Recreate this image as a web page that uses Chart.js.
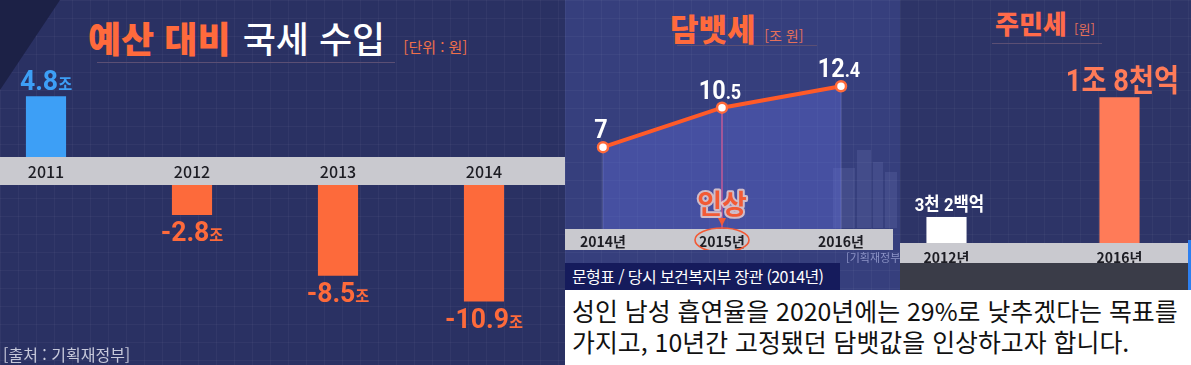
<!DOCTYPE html>
<html lang="ko">
<head>
<meta charset="utf-8">
<title>국세 수입 / 담뱃세 / 주민세</title>
<script src="https://cdn.jsdelivr.net/npm/chart.js@4.4.1/dist/chart.umd.min.js"></script>
<style>
  body { margin: 0; width: 1191px; height: 365px; overflow: hidden; position: relative;
         background: #1e2348; font-family: "Noto Sans CJK KR", "Noto Sans", sans-serif; }
  .panel { position: absolute; top: 0; height: 365px; overflow: hidden;
           background-image: linear-gradient(rgba(255,255,255,0.035) 1px, transparent 1px),
                             linear-gradient(90deg, rgba(255,255,255,0.035) 1px, transparent 1px);
           background-size: 18px 18px; }
  #p1 { left: 0; width: 565px; background-color: #2a3163; }
  #p2 { left: 565px; width: 335px; background-color: #363f7d; }
  #p3 { left: 900px; width: 291px; background-color: #2d3467; }
  .band { position: absolute; left: 0; background: #c9c9cf; }
  .title { position: absolute; white-space: nowrap; font-weight: 700; line-height: 1; }
  .rule { position: absolute; height: 1px; background: #5b4f74; }
  canvas { position: absolute; }
  #corner { position: absolute; left: 0; top: 0; width: 60px; height: 90px; background: #1c2146;
            clip-path: polygon(0 0, 100% 0, 0 100%); }
  .deco { position: absolute; background: rgba(190,200,255,0.10); }
  #tag { position: absolute; left: 565px; top: 263px; width: 275px; height: 27px; background: #151b5c;
         color: #fff; font-size: 16px; letter-spacing: -0.6px; line-height: 27px; padding-left: 7px;
         box-sizing: border-box; white-space: nowrap; }
  #caption { position: absolute; left: 565px; top: 290px; width: 626px; height: 75px; background: #fff;
             color: #111; font-size: 24.9px; line-height: 31px; padding: 5px 0 0 7px; box-sizing: border-box; white-space: nowrap; }
</style>
</head>
<body>

<div class="panel" id="p1">
  <div id="corner"></div>
  <div class="band" style="top:157px;height:28px;width:565px"></div>
  <div class="title" style="left:88px;top:19px;font-size:36px">
    <span style="color:#ff6a3c;font-weight:900">예산 대비</span>
    <span style="color:#fff;font-weight:500;margin-left:2px">국세 수입</span>
    <span style="color:#f0704a;font-size:15px;font-weight:400;margin-left:8px">[단위 : 원]</span>
  </div>
  <div class="rule" style="left:97px;top:62px;width:298px"></div>
  <canvas id="budgetUp" width="584" height="125" style="left:-27px;top:60px"></canvas>
  <canvas id="budgetDown" width="584" height="180" style="left:-27px;top:185px"></canvas>
  <div class="title" style="left:3px;top:346px;font-size:16px;font-weight:400;color:#c6c8da">[출처 : 기획재정부]</div>
</div>

<div class="panel" id="p2">
  <div class="deco" style="left:268px;top:168px;width:22px;height:60px"></div>
  <div class="deco" style="left:292px;top:150px;width:14px;height:78px"></div>
  <div class="deco" style="left:308px;top:162px;width:10px;height:66px"></div>
  <div class="deco" style="left:320px;top:172px;width:12px;height:56px"></div>
  <div class="band" style="top:229px;height:21px;width:328px"></div>
  <div class="title" style="left:105px;top:12px;font-size:31px">
    <span style="color:#ff6a3c;font-weight:900">담뱃세</span>
    <span style="color:#e5705a;font-size:14px;font-weight:400">[조 원]</span>
  </div>
  <div class="rule" style="left:112px;top:45px;width:140px"></div>
  <canvas id="tobacco" width="335" height="250" style="left:0;top:0"></canvas>
  <div class="title" style="left:281px;top:252px;font-size:11px;font-weight:400;color:#8c93c6">[기획재정부]</div>
</div>

<div class="panel" id="p3">
  <div class="band" style="top:243px;height:20px;width:288px"></div>
  <div style="position:absolute;left:0;top:263px;width:291px;height:30px;background:#3a3c48"></div>
  <div style="position:absolute;left:288px;top:240px;width:3px;height:50px;background:#2c7ff0"></div>
  <div class="title" style="left:95px;top:10px;font-size:26px">
    <span style="color:#ff6a4a;font-weight:900">주민세</span>
    <span style="color:#e5705a;font-size:13px;font-weight:400">[원]</span>
  </div>
  <div class="rule" style="left:92px;top:43px;width:110px"></div>
  <canvas id="resident" width="346" height="263" style="left:-40px;top:0"></canvas>
</div>

<div id="tag">문형표 / 당시 보건복지부 장관 (2014년)</div>
<div id="caption">성인 남성 흡연율을 2020년에는 29%로 낮추겠다는 목표를<br>가지고, 10년간 고정됐던 담뱃값을 인상하고자 합니다.</div>

<script>
// 예산 대비 국세 수입 (조 원)
var budgetYears = ['2011', '2012', '2013', '2014'];
var budgetGap = [4.8, -2.8, -8.5, -10.9];

// 담뱃세 (조 원)
var tobaccoYears = ['2014년', '2015년', '2016년'];
var tobaccoTax = [7, 10.5, 12.4];
var tobaccoNote = '인상';
var tobaccoNoteYear = '2015년';

// 주민세 (억 원)
var residentYears = ['2012년', '2016년'];
var residentTax = [3200, 18000];

var ORANGE = '#fd6a3b';
var BLUE = '#3d9ff6';
var LABEL_FONT = 'Roboto, "Noto Sans CJK KR", sans-serif';

Chart.defaults.font.family = '"Noto Sans CJK KR", "Noto Sans", sans-serif';

// text made of pieces with different sizes, centred on cx
function drawParts(ctx, parts, cx, y, size, color, squeeze) {
  ctx.save();
  ctx.fillStyle = color;
  ctx.textBaseline = 'alphabetic';
  var fonts = parts.map(p => 'bold ' + Math.round(size * p[1]) + 'px ' + LABEL_FONT);
  var widths = parts.map((p, i) => { ctx.font = fonts[i]; return ctx.measureText(p[0]).width; });
  var total = widths.reduce((a, b) => a + b, 0);
  ctx.translate(cx, y);
  ctx.scale(squeeze || 1, 1);
  var x = -total / 2;
  parts.forEach((p, i) => { ctx.font = fonts[i]; ctx.fillText(p[0], x, 0); x += widths[i]; });
  ctx.restore();
}

var valueLabels = {
  id: 'valueLabels',
  afterDatasetsDraw: function(chart, args, opts) {
    if (!opts.format) return;
    var values = chart.data.datasets[0].data;
    chart.getDatasetMeta(0).data.forEach(function(el, i) {
      var v = values[i];
      if (v === null || v === undefined) return;
      var size = typeof opts.size === 'function' ? opts.size(v, i) : opts.size;
      var color = opts.color === 'bar' ? el.options.backgroundColor : opts.color;
      var y = v < 0 ? el.y + opts.gap + size * 0.72 : el.y - opts.gap;
      drawParts(chart.ctx, opts.format(v, i), el.x + (opts.dx || 0), y, size, color, opts.squeeze);
    });
  }
};

function bandAxis(height, pad, size, weight) {
  return {
    grid: { display: false, drawTicks: false },
    border: { display: false },
    ticks: { color: '#1d1d24', padding: pad, font: { size: size, weight: weight || 'bold' }, maxRotation: 0 },
    afterFit: function(scale) { scale.height = height; }
  };
}

function budgetChart(id, values, yMin, yMax, showAxis) {
  var axis = bandAxis(28, 5, 16, 500);
  axis.display = showAxis;
  return new Chart(document.getElementById(id), {
    type: 'bar',
    data: {
      labels: budgetYears,
      datasets: [{
        data: values,
        backgroundColor: budgetGap.map(v => v > 0 ? BLUE : ORANGE),
        categoryPercentage: 1,
        barPercentage: 0.275
      }]
    },
    options: {
      responsive: false,
      animation: false,
      layout: { padding: 0 },
      plugins: {
        legend: { display: false },
        tooltip: { enabled: false },
        valueLabels: {
          format: v => [[v.toFixed(1), 1], ['조', 0.58]],
          size: 28, gap: 6, color: 'bar', squeeze: 0.95
        }
      },
      scales: {
        x: axis,
        y: { display: false, min: yMin, max: yMax }
      }
    },
    plugins: [valueLabels]
  });
}

budgetChart('budgetUp', budgetGap.map(v => v > 0 ? v : null), 0, 7.67, true);
budgetChart('budgetDown', budgetGap.map(v => v < 0 ? v : null), -14.23, 0, false);

// drop lines under the points + the 인상 note
var tobaccoMarks = {
  id: 'tobaccoMarks',
  beforeDatasetsDraw: function(chart) {
    var ctx = chart.ctx, bottom = chart.chartArea.bottom;
    chart.getDatasetMeta(0).data.forEach(function(pt, i) {
      var hot = tobaccoYears[i] === tobaccoNoteYear;
      ctx.save();
      ctx.strokeStyle = hot ? '#d04a70' : 'rgba(200,205,255,0.28)';
      ctx.lineWidth = hot ? 2 : 1;
      ctx.beginPath();
      ctx.moveTo(pt.x, pt.y);
      ctx.lineTo(pt.x, bottom);
      ctx.stroke();
      ctx.restore();
    });
  },
  afterDraw: function(chart) {
    var ctx = chart.ctx;
    var x = chart.scales.x.getPixelForValue(tobaccoYears.indexOf(tobaccoNoteYear));
    var bottom = chart.chartArea.bottom;
    ctx.save();
    ctx.font = 'bold 27px "Noto Sans CJK KR", sans-serif';
    ctx.textAlign = 'center';
    ctx.textBaseline = 'alphabetic';
    ctx.lineJoin = 'round';
    ctx.lineWidth = 4;
    ctx.strokeStyle = 'rgba(255,225,215,0.75)';
    ctx.strokeText(tobaccoNote, x, bottom - 15);
    ctx.fillStyle = '#f25a36';
    ctx.fillText(tobaccoNote, x, bottom - 15);
    ctx.beginPath();
    ctx.moveTo(x - 4, bottom - 11);
    ctx.lineTo(x + 4, bottom - 11);
    ctx.lineTo(x, bottom - 3);
    ctx.closePath();
    ctx.fill();
    ctx.strokeStyle = '#f25a36';
    ctx.lineWidth = 1.6;
    ctx.beginPath();
    ctx.ellipse(x, bottom + 11, 27, 12, 0, 0, Math.PI * 2);
    ctx.stroke();
    ctx.restore();
  }
};

new Chart(document.getElementById('tobacco'), {
  type: 'line',
  data: {
    labels: tobaccoYears,
    datasets: [{
      data: tobaccoTax,
      borderColor: '#ff5a28',
      borderWidth: 4,
      fill: 'start',
      backgroundColor: 'rgba(95,108,215,0.40)',
      pointRadius: 5,
      pointBorderWidth: 2.5,
      pointBackgroundColor: '#ffffff',
      pointBorderColor: '#ff6a3a',
      tension: 0
    }]
  },
  options: {
    responsive: false,
    animation: false,
    layout: { padding: { left: 38, right: 59, top: 20, bottom: 0 } },
    plugins: {
      legend: { display: false },
      tooltip: { enabled: false },
      valueLabels: {
        format: function(v) {
          var s = String(v).split('.');
          return s.length > 1 ? [[s[0], 1], ['.' + s[1], 0.75]] : [[s[0], 1]];
        },
        size: 26, gap: 9, color: '#ffffff', squeeze: 0.9, dx: -2
      }
    },
    scales: {
      x: bandAxis(21, 4, 14),
      y: { display: false, min: -0.25, max: 18.27 }
    }
  },
  plugins: [tobaccoMarks, valueLabels]
});

// 억 원 -> "1조 8천억" / "3천 2백억"
function wonText(v) {
  var jo = Math.floor(v / 10000), rest = v % 10000;
  var cheon = Math.floor(rest / 1000), baek = Math.floor((rest % 1000) / 100);
  var out = [];
  if (jo) out.push(jo + '조');
  var tail = (cheon ? cheon + '천' : '') + (baek ? ' ' + baek + '백' : '');
  out.push(tail.trim() + '억');
  return out.join(' ');
}

new Chart(document.getElementById('resident'), {
  type: 'bar',
  data: {
    labels: residentYears,
    datasets: [{
      data: residentTax,
      backgroundColor: ['#ffffff', '#ff7b58'],
      categoryPercentage: 1,
      barPercentage: 0.232
    }]
  },
  options: {
    responsive: false,
    animation: false,
    layout: { padding: 0 },
    plugins: {
      legend: { display: false },
      tooltip: { enabled: false },
      valueLabels: {
        format: v => [[wonText(v), 1]],
        size: (v, i) => i === 0 ? 19 : 31,
        gap: 6, color: 'bar', squeeze: 0.88, dx: 3
      }
    },
    scales: {
      x: bandAxis(20, 6, 14),
      y: { display: false, min: 0, max: 30000 }
    }
  },
  plugins: [valueLabels]
});
</script>
</body>
</html>
